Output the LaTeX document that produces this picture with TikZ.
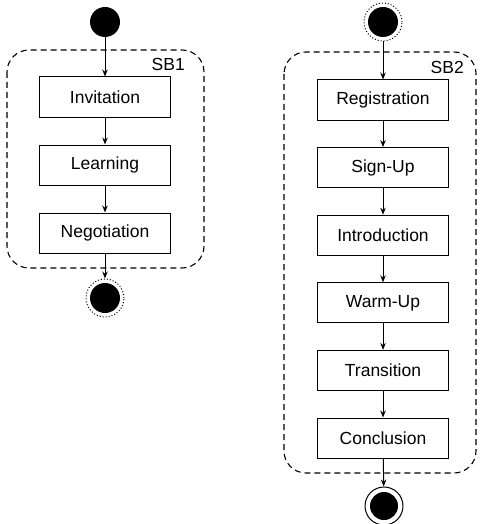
\documentclass[tikz,border=0pt]{standalone}
\usepackage{fontspec}
\setmainfont{Liberation Sans}
\usetikzlibrary{arrows.meta}

\tikzset{
  stage/.style={draw, line width=1pt, minimum width=131pt, minimum height=40pt, inner sep=0pt, font=\fontsize{17.5}{20}\selectfont},
  flow/.style={line width=1pt, -{Stealth[length=7pt,width=5.5pt]}},
  lane/.style={draw, line width=1.1pt, dash pattern=on 6pt off 4pt, rounded corners=22pt},
  lanelabel/.style={anchor=east, inner sep=0pt, font=\fontsize{17.5}{20}\selectfont},
  dot/.style={circle, fill, inner sep=0pt, minimum size=30pt},
  ring/.style={circle, draw, inner sep=0pt, minimum size=38pt},
}

\begin{document}
\begin{tikzpicture}[x=1pt,y=-1pt]
\useasboundingbox (0,0) rectangle (479,524);

% SB1
\draw[lane] (7,50) rectangle (204,268);
\node[lanelabel] (sb1) at (185,64) {SB1};
\node[dot] (start1) at (105,22) {};
\node[stage] (inv) at (105,97) {Invitation};
\node[stage] (learn) at (105,165) {Learning};
\node[stage] (nego) at (105,233) {Negotiation};
\node[ring, dotted, line width=1pt] (end1) at (105,298) {};
\fill (end1) circle (15pt);

\draw[flow] (start1) -- (inv);
\draw[flow] (inv) -- (learn);
\draw[flow] (learn) -- (nego);
\draw[flow] (nego) -- (end1);

% SB2
\draw[lane] (284,52) rectangle (476,473);
\node[lanelabel] (sb2) at (464,67) {SB2};
\node[ring, dotted, line width=1pt] (start2) at (383,22) {};
\fill (start2) circle (15pt);
\node[stage] (reg) at (383,100) {Registration};
\node[stage] (sign) at (383,167.6) {Sign-Up};
\node[stage] (intro) at (383,235.2) {Introduction};
\node[stage] (warm) at (383,302.8) {Warm-Up};
\node[stage] (trans) at (383,370.4) {Transition};
\node[stage] (concl) at (383,438) {Conclusion};
\node[ring, line width=1pt] (end2) at (384,506) {};
\fill (end2) circle (14pt);

\draw[flow] (start2) -- (reg);
\draw[flow] (reg) -- (sign);
\draw[flow] (sign) -- (intro);
\draw[flow] (intro) -- (warm);
\draw[flow] (warm) -- (trans);
\draw[flow] (trans) -- (concl);
\draw[flow] (concl) -- (end2);
\end{tikzpicture}
\end{document}
